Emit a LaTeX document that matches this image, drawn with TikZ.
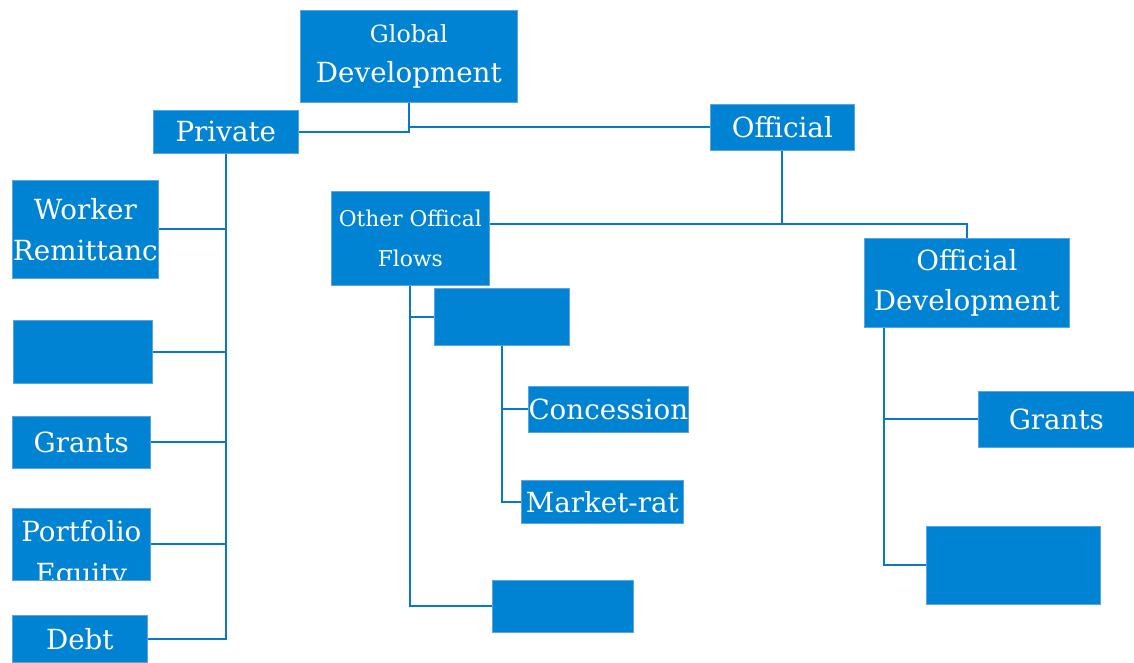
\documentclass[tikz,border=0pt]{standalone}
\usepackage{fontspec}
\setmainfont{DejaVu Serif}
\definecolor{boxblue}{RGB}{0,131,210}
\definecolor{edgeblue}{RGB}{90,165,222}
\definecolor{lineblue}{RGB}{10,120,200}
\tikzset{
  box/.style={fill=boxblue, draw=edgeblue, line width=0.5pt, inner sep=0pt, text=white, align=center,
    anchor=north west, font=\fontsize{20.8pt}{30.5pt}\selectfont},
  sz/.style 2 args={minimum width=#1*0.75pt, minimum height=#2*0.75pt},
  conn/.style={draw=lineblue, line width=1.5pt}
}
\begin{document}
\begin{tikzpicture}[x=0.75pt, y=-0.75pt]
\useasboundingbox (0,0) rectangle (1134,662);
% top
\node[box, sz={217}{92}] (gd) at (300,10) {{\fontsize{17.8pt}{31.5pt}\selectfont Global}\\Development};
\node[box, sz={145}{43}] (pr) at (153,110) {Private};
\node[box, sz={144}{46}] (of) at (710,104) {Official};
% private children
\node[box, sz={146}{98}] (wr) at (12,180) {Worker\\Remittanc};
\node[box, sz={139}{63}] (b1) at (13,320) {};
\node[box, sz={138}{52}] (gl) at (12,416) {Grants};
\node[box, sz={138}{72},
  path picture={\node[anchor=center, text=white, align=center, inner sep=0pt, font=\fontsize{20.8pt}{31.5pt}\selectfont]
    at ([yshift=-8pt]path picture bounding box.center) {Portfolio\\Equity};}] (pe) at (12,508) {};
\node[box, sz={135}{47}] (db) at (12,615) {Debt};
% official children
\node[box, sz={158}{94}, font=\fontsize{16.3pt}{30.5pt}\selectfont] (oof) at (331,191) {Other Offical\\Flows};
\node[box, sz={205}{89}] (oda) at (864,238) {Official\\Development};
\node[box, sz={135}{57}] (b2) at (434,288) {};
\node[box, sz={160}{46}] (co) at (528,386) {Concession};
\node[box, sz={162}{43}] (mr) at (521,480) {Market-rat};
\node[box, sz={141}{52}] (b3) at (492,580) {};
\node[box, sz={156}{56}] (gr) at (978,391) {Grants};
\node[box, sz={174}{78}] (b4) at (926,526) {};
% connectors
\draw[conn] (gd.south) -- (gd.south |- pr.east) -- (pr.east);
\draw[conn] (gd.south |- of.west) -- (of.west);
\draw[conn] (pr.south) -- (pr.south |- db.east) -- (db.east);
\draw[conn] (wr.east) -- (wr.east -| pr.south);
\draw[conn] (b1.east) -- (b1.east -| pr.south);
\draw[conn] (gl.east) -- (gl.east -| pr.south);
\draw[conn] (pe.east) -- (pe.east -| pr.south);
\coordinate (j1) at (782,224);
\draw[conn] (of.south) |- (oof.east |- j1);
\draw[conn] (j1) -| (oda.north);
\draw[conn] (oof.south) |- (b2.west);
\draw[conn] (oof.south) |- (b3.west);
\draw[conn] (b2.south) |- (co.west);
\draw[conn] (b2.south) |- (mr.west);
\coordinate (t) at ([xshift=15pt]oda.south west);
\draw[conn] (t) |- (gr.west);
\draw[conn] (t) |- (b4.west);
\end{tikzpicture}
\end{document}
